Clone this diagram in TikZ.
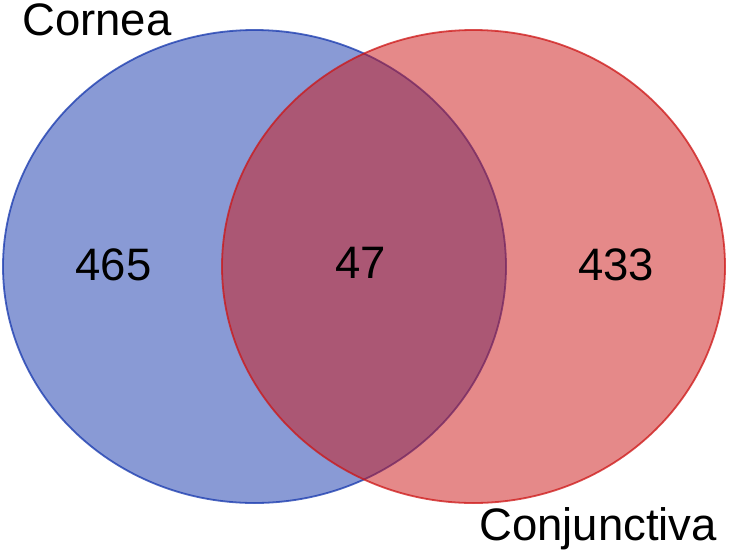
\documentclass[tikz,border=0pt]{standalone}
\usepackage{fontspec}
\setmainfont{Liberation Sans}
\definecolor{cblue}{HTML}{1537AD}
\definecolor{cred}{HTML}{CD1515}
\tikzset{
  setcircle/.style={line width=1.8pt, fill opacity=0.5, draw opacity=0.75},
  lbl/.style={font=\fontsize{45.5}{54}\selectfont, inner sep=0pt, text=black},
}
\begin{document}
\begin{tikzpicture}[x=1pt,y=-1pt]
\useasboundingbox (0,0) rectangle (730,552);
\fill[white] (0,0) rectangle (730,552);
\draw[setcircle, draw=cblue, fill=cblue] (254.5,266.5) ellipse [x radius=251.5, y radius=236.5];
\draw[setcircle, draw=cred, fill=cred] (473.5,266.5) ellipse [x radius=251.5, y radius=236.5];
\node[lbl, anchor=base west] (cornea) at (22,35) {Cornea};
\node[lbl, anchor=base west] (conj) at (479,540) {Conjunctiva};
\node[lbl, anchor=base] (a) at (113.5,280) {465};
\node[lbl, anchor=base] (ab) at (361,278) {47};
\node[lbl, anchor=base] (b) at (616,280) {433};
\end{tikzpicture}
\end{document}
